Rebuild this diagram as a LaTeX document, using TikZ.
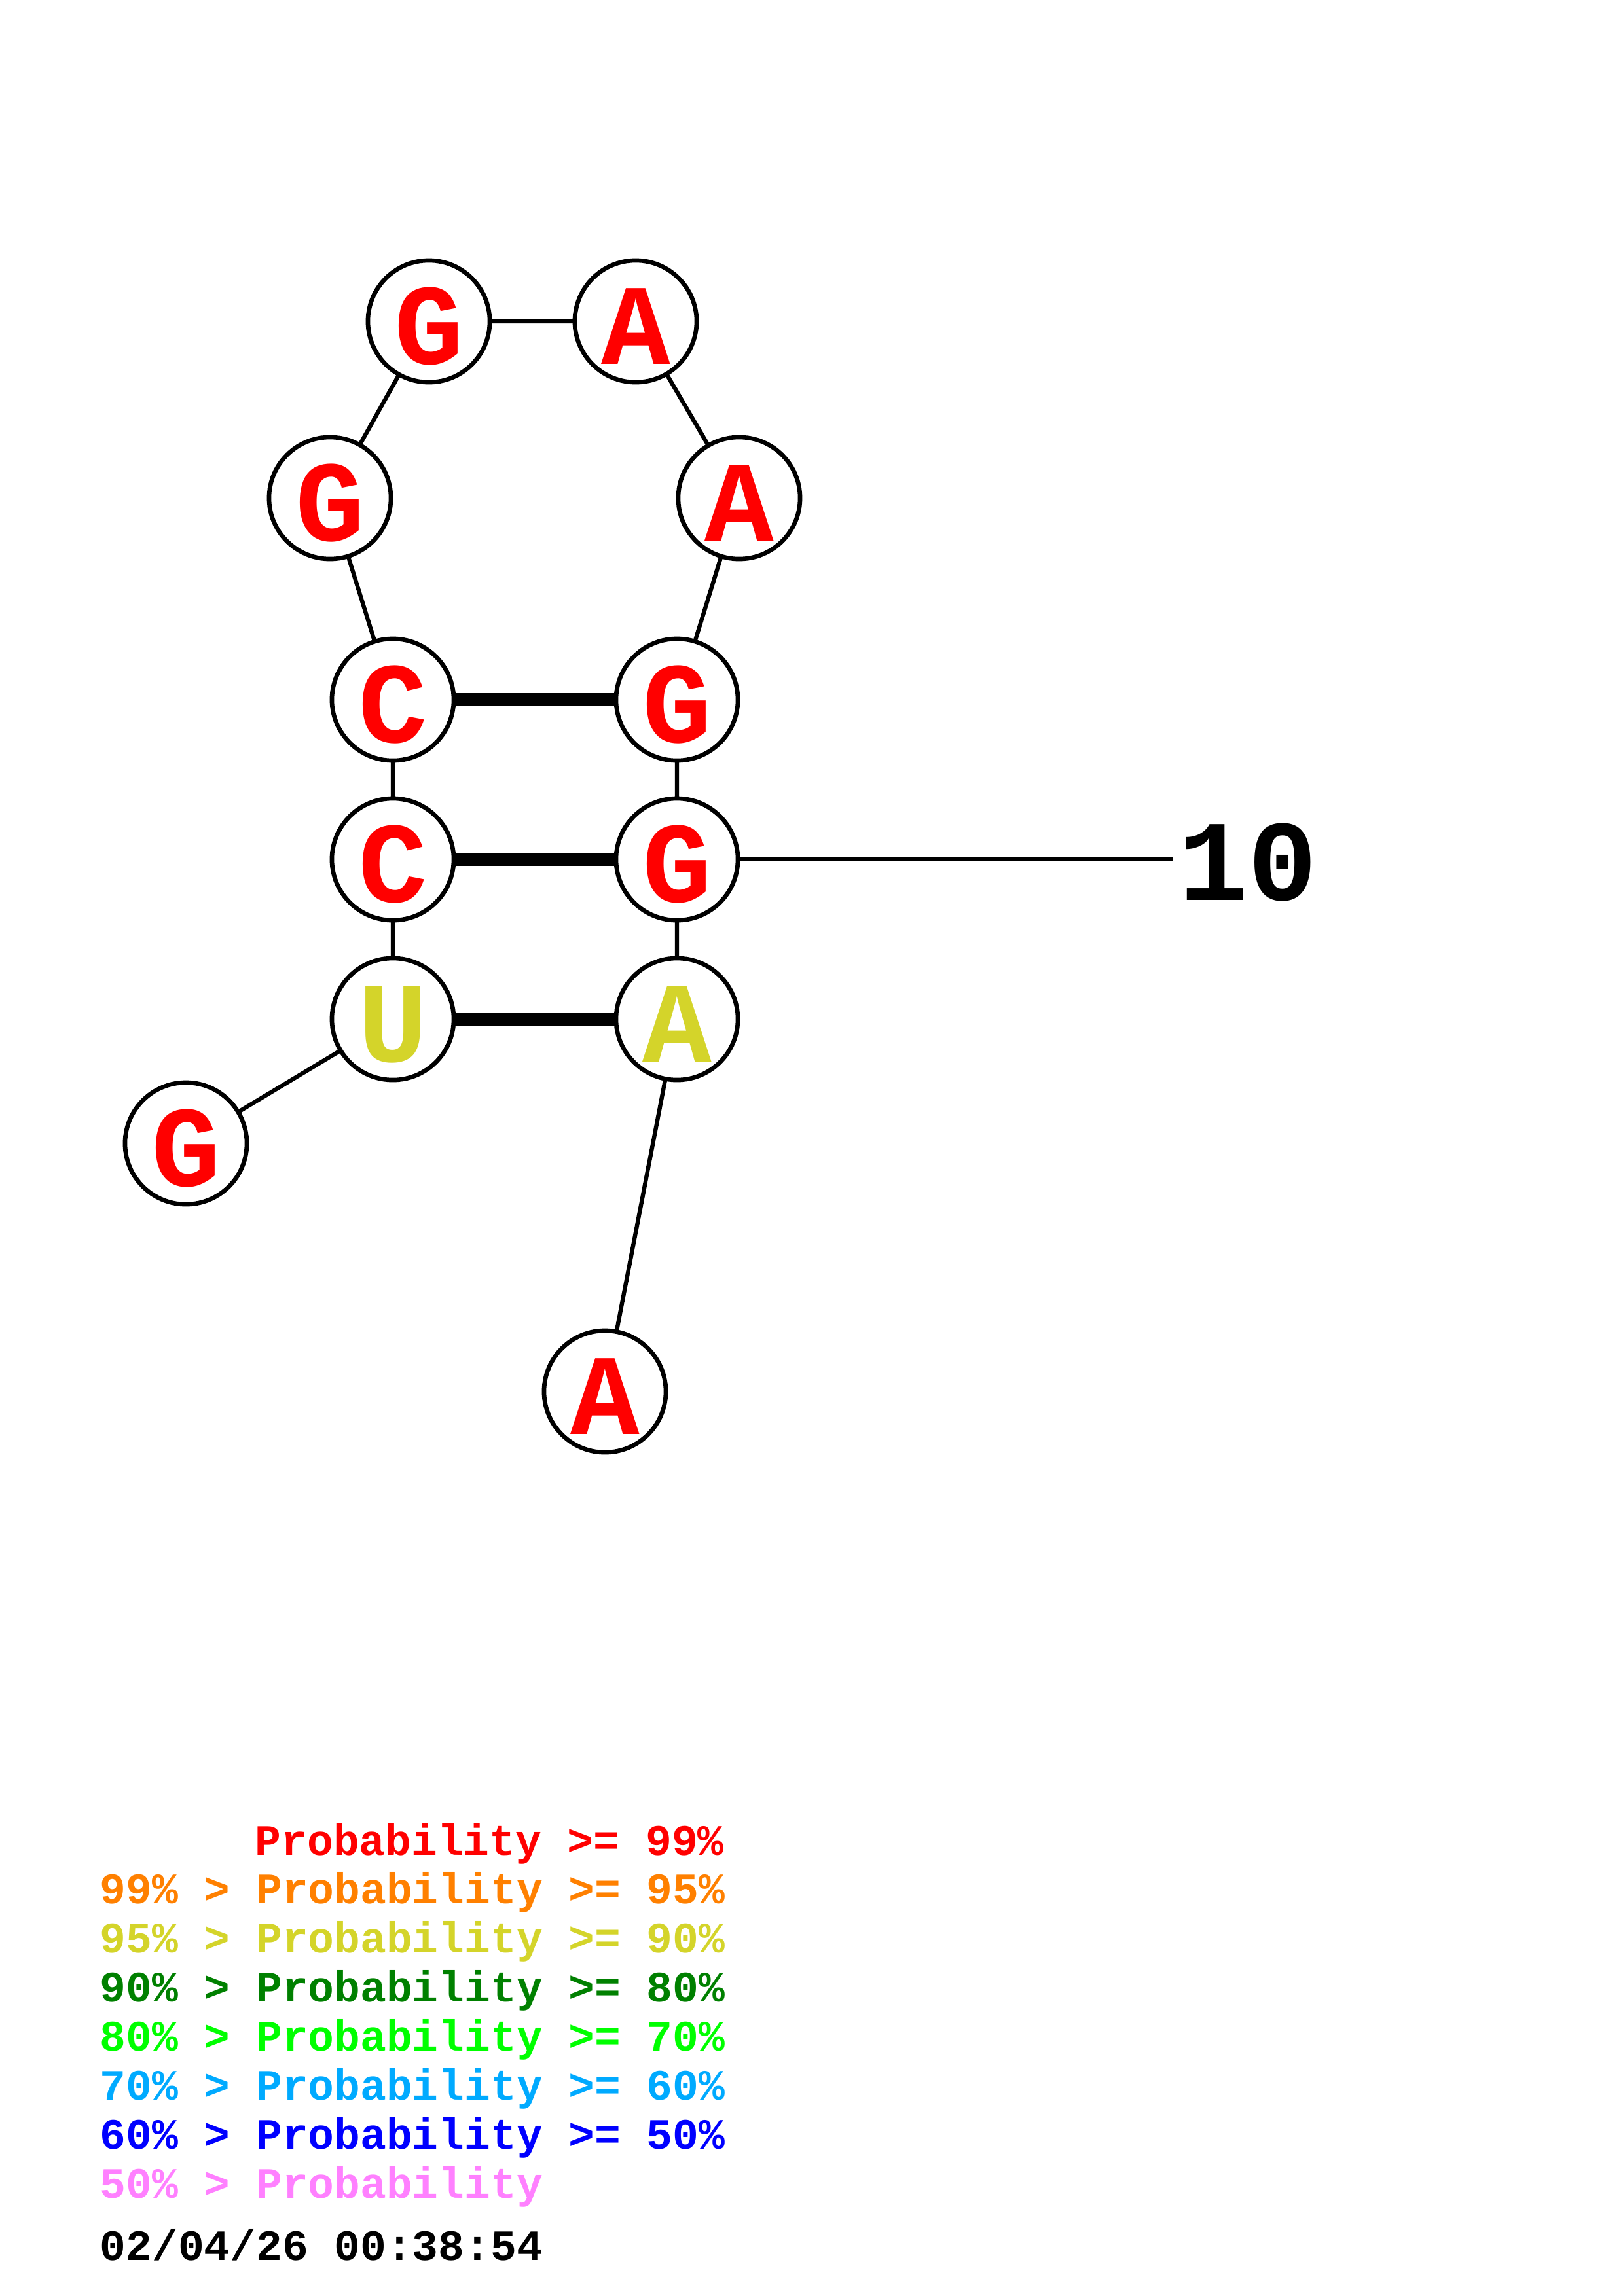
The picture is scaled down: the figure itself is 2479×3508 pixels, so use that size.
\documentclass[tikz,border=0pt]{standalone}
\usepackage{fontspec}
\setmainfont{Liberation Mono}
\definecolor{pred}{RGB}{255,0,0}
\definecolor{porange}{RGB}{255,128,0}
\definecolor{pyellow}{RGB}{212,212,42}
\definecolor{pdgreen}{RGB}{0,128,0}
\definecolor{pgreen}{RGB}{0,255,0}
\definecolor{pcyan}{RGB}{0,170,255}
\definecolor{pblue}{RGB}{0,0,255}
\definecolor{ppink}{RGB}{255,128,255}
\tikzset{
  base/.style={circle, draw=black, fill=white, line width=1.9pt, minimum size=1.86cm, inner sep=0pt},
  lett/.style={font=\fontsize{50}{50}\selectfont\bfseries, inner sep=0pt, anchor=center},
  bb/.style={line width=1.8pt},
  pairline/.style={line width=5.8pt},
  legend/.style={font=\fontsize{18.85}{18.85}\selectfont\bfseries, inner sep=0pt, anchor=base west}
}
\newcommand{\rnanode}[5]{%
  \node[base] (#1) at (#2,#3) {};
  \node[lett, text=#5] (#1t) at (#2,#3+8) {#4};
}
\begin{document}
\begin{tikzpicture}[x=0.01cm, y=-0.01cm]
\useasboundingbox[fill=white] (0,0) rectangle (2479,3508);
% connectors first (drawn behind nodes)
\coordinate (gb) at (284,1747);
\coordinate (u) at (600,1557);
\coordinate (c2) at (600,1313);
\coordinate (c1) at (600,1069);
\coordinate (gl) at (504,761);
\coordinate (gt) at (655,491);
\coordinate (at) at (971,491);
\coordinate (ar) at (1129,761);
\coordinate (g1) at (1034,1069);
\coordinate (g2) at (1034,1313);
\coordinate (ay) at (1034,1557);
\coordinate (ab) at (924,2126);
\coordinate (tick) at (1792,1313);
\draw[bb] (gb) -- (u) -- (c2) -- (c1) -- (gl) -- (gt) -- (at) -- (ar) -- (g1) -- (g2) -- (ay) -- (ab);
\draw[pairline] (c1) -- (g1);
\draw[pairline] (c2) -- (g2);
\draw[pairline] (u) -- (ay);
\draw[bb] (g2) -- (tick);
% nodes
\rnanode{ngb}{284}{1747}{G}{pred}
\rnanode{nu}{600}{1557}{U}{pyellow}
\rnanode{nc2}{600}{1313}{C}{pred}
\rnanode{nc1}{600}{1069}{C}{pred}
\rnanode{ngl}{504}{761}{G}{pred}
\rnanode{ngt}{655}{491}{G}{pred}
\rnanode{nat}{971}{491}{A}{pred}
\rnanode{nar}{1129}{761}{A}{pred}
\rnanode{ng1}{1034}{1069}{G}{pred}
\rnanode{ng2}{1034}{1313}{G}{pred}
\rnanode{nay}{1034}{1557}{A}{pyellow}
\rnanode{nab}{924}{2126}{A}{pred}
\node[lett, text=black] (ten) at (1906,1318) {10};
% legend
\node[legend, text=pred] (l1) at (389,2834) {Probability >= 99\%};
\node[legend, text=porange] (l2) at (152,2908) {99\% > Probability >= 95\%};
\node[legend, text=pyellow] (l3) at (152,2983) {95\% > Probability >= 90\%};
\node[legend, text=pdgreen] (l4) at (152,3058) {90\% > Probability >= 80\%};
\node[legend, text=pgreen] (l5) at (152,3133) {80\% > Probability >= 70\%};
\node[legend, text=pcyan] (l6) at (152,3208) {70\% > Probability >= 60\%};
\node[legend, text=pblue] (l7) at (152,3283) {60\% > Probability >= 50\%};
\node[legend, text=ppink] (l8) at (152,3358) {50\% > Probability};
\node[legend, text=black] (ts) at (152,3453) {02/04/26 00:38:54};
\end{tikzpicture}
\end{document}
